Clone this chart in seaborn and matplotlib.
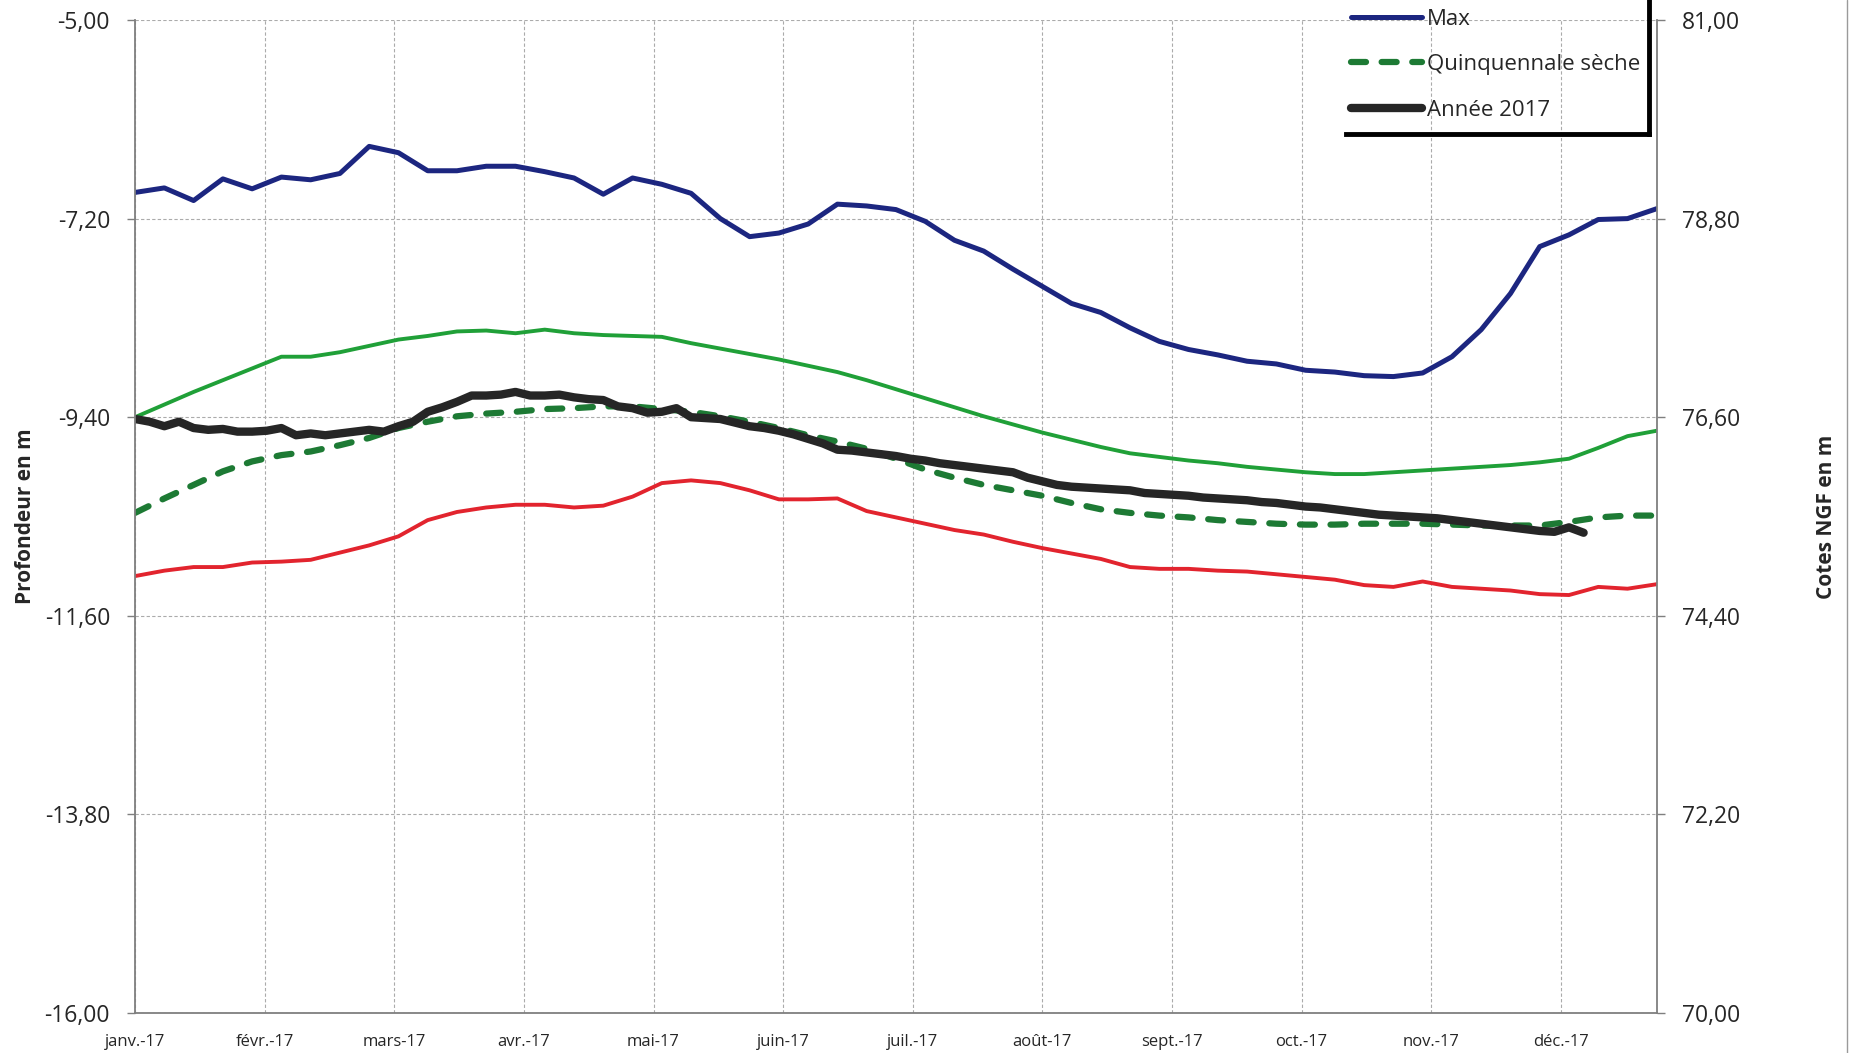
import numpy as np
import pandas as pd
import matplotlib
matplotlib.use("Agg")
import matplotlib.pyplot as plt
from matplotlib.lines import Line2D
from matplotlib.ticker import FuncFormatter
import seaborn as sns

sns.set_style("white")
plt.rcParams['font.family'] = ['Open Sans', 'DejaVu Sans']

# --- données (profondeur en m, pas hebdomadaire) ---
mois = ['janv.-17', 'févr.-17', 'mars-17', 'avr.-17', 'mai-17', 'juin-17',
        'juil.-17', 'août-17', 'sept.-17', 'oct.-17', 'nov.-17', 'déc.-17']

maxi = [-6.91, -6.86, -7.00, -6.76, -6.87, -6.74, -6.77, -6.70, -6.40, -6.47,
        -6.67, -6.67, -6.62, -6.62, -6.68, -6.75, -6.93, -6.75, -6.82, -6.92,
        -7.20, -7.40, -7.36, -7.26, -7.04, -7.06, -7.10, -7.23, -7.44, -7.56,
        -7.76, -7.95, -8.14, -8.24, -8.41, -8.56, -8.65, -8.71, -8.78, -8.81,
        -8.88, -8.90, -8.94, -8.95, -8.91, -8.73, -8.43, -8.03, -7.51, -7.38,
        -7.21, -7.20, -7.09]

moyenne = [-9.40, -9.26, -9.12, -8.99, -8.86, -8.73, -8.73, -8.68, -8.61, -8.54,
           -8.50, -8.45, -8.44, -8.47, -8.43, -8.47, -8.49, -8.50, -8.51, -8.58,
           -8.64, -8.70, -8.76, -8.83, -8.90, -8.99, -9.09, -9.19, -9.29, -9.39,
           -9.48, -9.57, -9.65, -9.73, -9.80, -9.84, -9.88, -9.91, -9.95, -9.98,
           -10.01, -10.03, -10.03, -10.01, -9.99, -9.97, -9.95, -9.93, -9.90, -9.86,
           -9.74, -9.61, -9.55]

mini = [-11.16, -11.10, -11.06, -11.06, -11.01, -11.00, -10.98, -10.90, -10.82, -10.72,
        -10.54, -10.45, -10.40, -10.37, -10.37, -10.40, -10.38, -10.28, -10.13, -10.10,
        -10.13, -10.21, -10.31, -10.31, -10.30, -10.44, -10.51, -10.58, -10.65, -10.70,
        -10.78, -10.85, -10.91, -10.97, -11.06, -11.08, -11.08, -11.10, -11.11, -11.14,
        -11.17, -11.20, -11.26, -11.28, -11.22, -11.28, -11.30, -11.32, -11.36, -11.37,
        -11.28, -11.30, -11.25]

quinquennale = [-10.46, -10.30, -10.15, -10.00, -9.89, -9.82, -9.78, -9.71, -9.63, -9.52,
                -9.45, -9.39, -9.36, -9.34, -9.31, -9.30, -9.28, -9.28, -9.31, -9.34,
                -9.39, -9.45, -9.52, -9.60, -9.67, -9.75, -9.86, -9.98, -10.07, -10.15,
                -10.21, -10.27, -10.35, -10.42, -10.46, -10.49, -10.51, -10.54, -10.56, -10.58,
                -10.59, -10.59, -10.58, -10.58, -10.58, -10.59, -10.60, -10.60, -10.60, -10.56,
                -10.51, -10.49, -10.49]

# année 2017 : relevés tous les demi-pas
annee_2017 = [-9.42, -9.45, -9.50, -9.45, -9.52, -9.54, -9.53, -9.56, -9.56, -9.55,
              -9.52, -9.60, -9.58, -9.60, -9.58, -9.56, -9.54, -9.56, -9.50, -9.45,
              -9.34, -9.29, -9.23, -9.16, -9.16, -9.15, -9.12, -9.16, -9.16, -9.15,
              -9.18, -9.20, -9.21, -9.28, -9.30, -9.35, -9.34, -9.30, -9.40, -9.41,
              -9.42, -9.46, -9.50, -9.52, -9.55, -9.59, -9.64, -9.69, -9.76, -9.77,
              -9.79, -9.81, -9.83, -9.86, -9.88, -9.91, -9.93, -9.95, -9.97, -9.99,
              -10.01, -10.07, -10.11, -10.15, -10.17, -10.18, -10.19, -10.20, -10.21, -10.24,
              -10.25, -10.26, -10.27, -10.29, -10.30, -10.31, -10.32, -10.34, -10.35, -10.37,
              -10.39, -10.40, -10.42, -10.44, -10.46, -10.48, -10.49, -10.50, -10.51, -10.52,
              -10.54, -10.56, -10.58, -10.60, -10.62, -10.64, -10.66, -10.67, -10.62, -10.68]

yticks_prof = [-16.0, -13.8, -11.6, -9.4, -7.2, -5.0]
yticks_ngf = [70.0, 72.2, 74.4, 76.6, 78.8, 81.0]

pas = np.arange(len(maxi))
pas_2017 = np.arange(len(annee_2017)) * 0.5
pas_par_mois = 52 / 11.74

df = pd.DataFrame({'pas': pas, 'Max': maxi, 'Moyenne': moyenne, 'Min': mini,
                   'Quinquennale sèche': quinquennale})
df17 = pd.DataFrame({'pas': pas_2017, 'Année 2017': annee_2017})

fig, ax = plt.subplots(figsize=(18.58, 10.53), dpi=100)
fig.subplots_adjust(left=0.0727, right=0.8917, top=0.981, bottom=0.038)

sns.lineplot(data=df, x='pas', y='Max', ax=ax, color='#1c2680', lw=3.6, label='Max')
sns.lineplot(data=df, x='pas', y='Moyenne', ax=ax, color='#20a038', lw=2.8, label='Moyenne')
sns.lineplot(data=df, x='pas', y='Min', ax=ax, color='#e2242e', lw=2.8, label='Min')
sns.lineplot(data=df, x='pas', y='Quinquennale sèche', ax=ax, color='#1d7a34', lw=4.5,
             linestyle=(0, (2.4, 2.5)), dash_capstyle='round', label='Quinquennale sèche')
sns.lineplot(data=df17, x='pas', y='Année 2017', ax=ax, color='#262626', lw=6.0,
             solid_capstyle='round', label='Année 2017')

ax.set_xlim(0, 52)
ax.set_ylim(-16, -5)
ax.set_xticks(np.arange(12) * pas_par_mois)
ax.set_xticklabels(mois, fontsize=12)
ax.set_yticks(yticks_prof)
fmt = FuncFormatter(lambda v, p: f"{v:.2f}".replace('.', ','))
ax.yaxis.set_major_formatter(fmt)
ax.tick_params(axis='y', labelsize=16.5, length=6, width=1, color='#7f7f7f', pad=12, direction='out')
ax.tick_params(axis='x', length=6, width=1, color='#7f7f7f', pad=9, direction='out')
ax.grid(True, color='#ababab', linestyle=(0, (3, 2)), linewidth=0.8)
ax.set_xlabel('')
ax.set_ylabel('Profondeur en m', fontsize=15, fontweight='bold')
ax.yaxis.set_label_coords(-0.065, 0.5)
for s in ['left', 'bottom']:
    ax.spines[s].set_color('#7f7f7f')
    ax.spines[s].set_linewidth(1.3)
ax.spines['top'].set_visible(False)
ax.spines['right'].set_visible(False)

ax2 = ax.twinx()
ax2.set_ylim(70, 81)
ax2.set_yticks(yticks_ngf)
ax2.yaxis.set_major_formatter(fmt)
ax2.tick_params(axis='y', labelsize=16.5, length=6, width=1, color='#7f7f7f', pad=12, direction='out')
ax2.set_ylabel('Cotes NGF en m', fontsize=15, fontweight='bold', rotation=90)
ax2.yaxis.set_label_coords(1.1045, 0.5)
for s in ['left', 'bottom', 'top']:
    ax2.spines[s].set_visible(False)
ax2.spines['right'].set_color('#7f7f7f')
ax2.spines['right'].set_linewidth(1.3)

# légende (tronquée en haut comme sur l'original)
handles, labels = ax.get_legend_handles_labels()
garder = ['Max', 'Quinquennale sèche', 'Année 2017']
h = [handles[labels.index(l)] for l in garder]
leg = ax.legend(h, garder, loc='lower left', bbox_to_anchor=(1338 / 1858, 1 - 134 / 1053),
                bbox_transform=fig.transFigure, borderaxespad=0, fontsize=16,
                handlelength=3.2, handletextpad=0.2, labelspacing=1.1, borderpad=0.6,
                frameon=False)

fig.canvas.draw()
bb = leg.get_window_extent().transformed(fig.transFigure.inverted())
x_droite = bb.x1 - 4 / 1858
fig.add_artist(Line2D([bb.x0 + 8 / 1858, x_droite], [bb.y0, bb.y0], color='black', lw=3.5,
                      transform=fig.transFigure, solid_capstyle='projecting'))
fig.add_artist(Line2D([x_droite, x_droite], [bb.y0, 1.0], color='black', lw=3.5,
                      transform=fig.transFigure, solid_capstyle='projecting'))
# bord de la zone graphique
fig.add_artist(Line2D([1847 / 1858, 1847 / 1858], [0, 1], color='#9a9a9a', lw=1,
                      transform=fig.transFigure))

fig.savefig('out.png', dpi=100)
